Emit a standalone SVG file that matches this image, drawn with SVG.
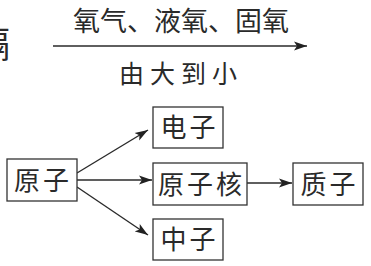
<svg xmlns="http://www.w3.org/2000/svg" width="371" height="266" viewBox="0 0 371 266">
<style>
.t{font-family:"Noto Sans CJK SC","Noto Sans CJK JP",sans-serif;fill:#2a2a2a;}
.bt{font-size:26px;letter-spacing:3px;text-anchor:middle;}
.box{fill:#fff;stroke:#333;stroke-width:1.3;}
.ln{stroke:#2a2a2a;stroke-width:1.4;fill:none;marker-end:url(#ah);}
</style>
<defs>
<marker id="ah" markerUnits="userSpaceOnUse" markerWidth="14" markerHeight="10" refX="13" refY="5" orient="auto">
<path d="M0,0.5 L13,5 L0,9.5 L3,5 z" fill="#222"/>
</marker>
</defs>
<g id="top">
<text class="t" x="10" y="58" font-size="36" text-anchor="end">隔</text>
<text class="t" x="73" y="31" font-size="27">氧气、液氧、固氧</text>
<text class="t" x="119" y="83" font-size="25" letter-spacing="6">由大到小</text>
</g>
<g id="connectors">
<line class="ln" x1="53" y1="46" x2="307" y2="46"/>
<line class="ln" x1="77" y1="173" x2="148" y2="130"/>
<line class="ln" x1="77" y1="180" x2="152" y2="180"/>
<line class="ln" x1="77" y1="187" x2="148" y2="235"/>
<line class="ln" x1="247" y1="183" x2="292" y2="183"/>
</g>
<g id="atom">
<rect class="box" x="7" y="159" width="70" height="42"/>
<text class="t bt" x="43" y="190">原子</text>
</g>
<g id="electron">
<rect class="box" x="153" y="107" width="70" height="41"/>
<text class="t bt" x="189.5" y="137">电子</text>
</g>
<g id="nucleus">
<rect class="box" x="153" y="163" width="94" height="42"/>
<text class="t bt" x="201.5" y="194">原子核</text>
</g>
<g id="proton">
<rect class="box" x="293" y="163" width="70" height="42"/>
<text class="t bt" x="329.5" y="194">质子</text>
</g>
<g id="neutron">
<rect class="box" x="153" y="219" width="70" height="41"/>
<text class="t bt" x="189.5" y="249">中子</text>
</g>
</svg>
